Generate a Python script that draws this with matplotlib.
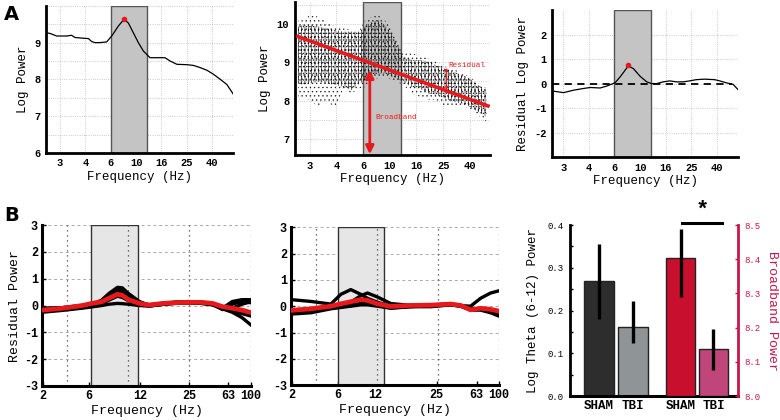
import numpy as np
import matplotlib.pyplot as plt

plt.rcParams['font.family'] = ['Liberation Mono', 'DejaVu Sans']
plt.rcParams['font.weight'] = 'bold'
plt.rcParams['axes.unicode_minus'] = False
plt.rcParams['hatch.linewidth'] = 0.45

RED = '#e8191c'
CRIMSON = '#c8164b'

# ---- panel A: x in tick-index units (ticks evenly spaced on a log axis)
A_TICK_POS = [0, 1, 2, 3, 4, 5, 6]
A_TICK_LABELS = ['3', '4', '6', '10', '16', '25', '40']
A_BAND = (2.0, 3.42)

# A1: single power spectrum
a1_x = [-0.55, -0.39, -0.13, 0.26, 0.46, 0.59, 0.92, 1.12, 1.25, 1.38, 1.58,
        1.84, 2.04, 2.30, 2.53, 2.70, 2.89, 3.09, 3.29, 3.55, 3.82, 4.14,
        4.34, 4.61, 5.00, 5.26, 5.53, 5.79, 6.05, 6.32, 6.58, 6.84]
a1_y = [9.27, 9.25, 9.18, 9.18, 9.20, 9.14, 9.12, 9.11, 9.03, 9.00, 9.00,
        9.02, 9.18, 9.45, 9.64, 9.53, 9.27, 9.00, 8.77, 8.59, 8.59, 8.59,
        8.50, 8.41, 8.40, 8.38, 8.32, 8.25, 8.14, 8.00, 7.86, 7.59]
a1_peak = (2.53, 9.64)

# A2: scatter envelope of all spectra (dense core and sparse outer range)
a2_x = [-0.44, -0.25, 0.0, 0.31, 0.62, 0.94, 1.25, 1.56, 1.87, 2.12, 2.37,
        2.56, 2.81, 3.06, 3.25, 3.50, 3.81, 4.12, 4.43, 4.74, 5.06, 5.37,
        5.68, 5.99, 6.30, 6.62]
a2_core_hi = [9.93, 9.97, 9.97, 9.93, 9.89, 9.84, 9.80, 9.80, 9.80, 9.97,
              10.06, 10.10, 9.97, 9.76, 9.50, 9.15, 9.06, 9.06, 9.02, 8.93,
              8.84, 8.76, 8.67, 8.58, 8.41, 8.28]
a2_core_lo = [8.45, 8.41, 8.45, 8.49, 8.45, 8.41, 8.36, 8.28, 8.45, 8.54,
              8.67, 8.71, 8.71, 8.63, 8.58, 8.49, 8.36, 8.32, 8.19, 8.15,
              8.06, 7.97, 7.93, 7.84, 7.71, 7.58]
a2_out_hi = [10.09, 10.10, 10.23, 10.19, 10.06, 9.93, 9.89, 9.84, 9.84,
             10.15, 10.19, 10.23, 10.10, 9.89, 9.67, 9.23, 9.23, 9.19, 9.10,
             9.02, 8.89, 8.84, 8.71, 8.63, 8.45, 8.32]
a2_out_lo = [8.02, 8.06, 8.02, 7.84, 8.02, 7.80, 8.28, 8.19, 8.32, 8.36,
             8.54, 8.58, 8.63, 8.54, 8.49, 8.41, 8.19, 8.10, 8.02, 8.02,
             7.84, 7.89, 7.84, 7.80, 7.62, 7.45]
a2_fit_x = [-0.44, 6.68]
a2_fit_y = [9.67, 7.86]

# A3: residual spectrum
a3_x = [-0.44, 0.01, 0.40, 0.79, 1.05, 1.44, 1.70, 2.02, 2.22, 2.54, 2.74,
        3.00, 3.26, 3.45, 3.65, 3.90, 4.16, 4.42, 4.68, 4.94, 5.19, 5.52,
        5.91, 6.11, 6.37, 6.63, 6.82]
a3_y = [-0.30, -0.37, -0.27, -0.20, -0.16, -0.18, -0.10, 0.03, 0.27, 0.72,
        0.61, 0.30, 0.07, 0.0, 0.0, 0.07, 0.11, 0.07, 0.07, 0.11, 0.16,
        0.18, 0.16, 0.11, 0.03, -0.03, -0.24]
a3_peak = (2.54, 0.75)

# ---- panel B: x in log10(frequency)
b_xlim = (0.293, 2.005)
b1_tick_pos = [0.301, 0.677, 1.094, 1.495, 1.814, 2.0]
b2_tick_pos = [0.301, 0.679, 0.983, 1.490, 1.820, 2.0]
b_tick_labels = ['2', '6', '12', '25', '63', '100']
b_grid_pos = [0.5, 1.0, 1.5, 2.0]
b1_band = (0.694, 1.078)
b2_band = (0.679, 1.061)

b1_x = [0.293, 0.46, 0.62, 0.70, 0.78, 0.84, 0.91, 0.95, 1.00, 1.09, 1.17,
        1.28, 1.39, 1.49, 1.60, 1.69, 1.77, 1.85, 1.93, 2.01]
b1_lines = [
    [-0.22, -0.15, -0.05, 0.05, 0.2, 0.45, 0.68, 0.66, 0.45, 0.15, 0.0, 0.05,
     0.1, 0.12, 0.1, 0.05, -0.1, 0.15, 0.22, 0.22],
    [-0.12, -0.08, 0.0, 0.06, 0.15, 0.3, 0.52, 0.5, 0.32, 0.1, 0.02, 0.08,
     0.13, 0.13, 0.1, 0.06, -0.12, -0.25, -0.45, -0.75],
    [-0.25, -0.18, -0.1, -0.05, 0.0, 0.05, 0.08, 0.07, 0.05, 0.0, -0.02, 0.05,
     0.1, 0.1, 0.08, 0.04, -0.15, -0.1, 0.05, 0.15],
    [-0.15, -0.1, -0.02, 0.05, 0.12, 0.25, 0.42, 0.4, 0.25, 0.08, 0.0, 0.06,
     0.1, 0.12, 0.1, 0.04, -0.08, -0.18, -0.3, -0.4],
    [-0.2, -0.13, -0.06, 0.0, 0.08, 0.2, 0.35, 0.3, 0.18, 0.05, -0.02, 0.04,
     0.08, 0.1, 0.08, 0.02, -0.12, -0.2, -0.28, -0.35],
    [-0.1, -0.08, 0.0, 0.04, 0.1, 0.28, 0.6, 0.58, 0.35, 0.12, 0.03, 0.08,
     0.12, 0.15, 0.12, 0.06, -0.1, 0.05, 0.15, 0.1],
]
b1_mean = [-0.17, -0.10, 0.0, 0.08, 0.14, 0.27, 0.42, 0.38, 0.22, 0.08,
           0.02, 0.08, 0.11, 0.12, 0.12, 0.08, -0.04, -0.10, -0.17, -0.27]

b2_x = [0.293, 0.457, 0.621, 0.703, 0.785, 0.867, 0.922, 1.004, 1.114,
        1.278, 1.442, 1.606, 1.688, 1.770, 1.852, 1.934, 2.016]
b2_lines = [
    [0.25, 0.18, 0.08, 0.45, 0.63, 0.45, 0.3, 0.15, 0.0, 0.02, 0.04, 0.08,
     0.02, 0.0, 0.3, 0.5, 0.6],
    [-0.15, -0.1, 0.0, 0.05, 0.15, 0.4, 0.5, 0.35, 0.1, 0.03, 0.05, 0.08,
     0.03, -0.1, -0.1, -0.15, -0.2],
    [-0.3, -0.25, -0.1, -0.05, 0.0, 0.05, 0.05, 0.0, -0.08, -0.02, -0.02,
     0.05, 0.0, -0.15, -0.15, -0.25, -0.4],
    [-0.2, -0.15, -0.05, 0.0, 0.05, 0.1, 0.1, 0.05, -0.05, 0.0, 0.0, 0.05,
     0.0, -0.12, -0.1, -0.2, -0.3],
    [-0.25, -0.2, -0.08, -0.02, 0.02, 0.08, 0.08, 0.02, -0.06, -0.02, 0.02,
     0.06, 0.02, -0.12, -0.12, -0.18, -0.35],
]
b2_mean = [-0.16, -0.10, 0.0, 0.09, 0.17, 0.25, 0.22, 0.09, -0.01, 0.03,
           0.04, 0.08, 0.03, -0.14, -0.08, -0.12, -0.2]

# B3: bars
bar_labels = ['SHAM', 'TBI', 'SHAM', 'TBI']
theta_mean = [0.27, 0.162]
theta_err_lo = [0.181, 0.123]
theta_err_hi = [0.355, 0.223]
broad_mean = [8.405, 8.139]
broad_err_lo = [8.29, 8.075]
broad_err_hi = [8.49, 8.197]

fig = plt.figure(figsize=(7.8, 4.2), dpi=100)


def style_a(ax, ylabel):
    for s in ['top', 'right']:
        ax.spines[s].set_visible(False)
    for s in ['left', 'bottom']:
        ax.spines[s].set_linewidth(2)
    ax.set_xticks(A_TICK_POS)
    ax.set_xticklabels(A_TICK_LABELS)
    ax.tick_params(length=0, labelsize=7.5, pad=4)
    ax.grid(True, which='both', color='#bbbbbb', ls=':', lw=0.6)
    ax.set_axisbelow(True)
    ax.set_xlabel('Frequency (Hz)', fontsize=9, labelpad=2)
    ax.set_ylabel(ylabel, fontsize=9)


# A1
ax = fig.add_axes([0.059, 0.636, 0.240, 0.350])
ax.axvspan(*A_BAND, facecolor='#c4c4c4', edgecolor='#555555', lw=1, zorder=1)
ax.plot(a1_x, a1_y, color='k', lw=0.9, zorder=3)
ax.plot(*a1_peak, 'o', color=RED, ms=3, zorder=4)
ax.set_xlim(-0.55, 6.83)
ax.set_ylim(6, 10)
ax.set_yticks([6, 7, 8, 9])
ax.set_yticks([6.5, 7.5, 8.5, 9.5, 10], minor=True)
style_a(ax, 'Log Power')
ax.tick_params(which='minor', length=0)

# A2
ax = fig.add_axes([0.378, 0.631, 0.250, 0.364])
ax.axvspan(*A_BAND, facecolor='#c4c4c4', edgecolor='#555555', lw=1, zorder=1)
ax.fill_between(a2_x, a2_out_lo, a2_out_hi, facecolor='none', edgecolor='#222222',
                hatch='....', lw=0, zorder=2)
ax.fill_between(a2_x, a2_core_lo, a2_core_hi, facecolor='none', edgecolor='#111111',
                hatch='|||||.....', lw=0, zorder=2)
ax.plot(a2_fit_x, a2_fit_y, color=RED, lw=2.6, zorder=4)
ax.annotate('', xy=(2.25, 8.80), xytext=(2.25, 6.60),
            arrowprops=dict(arrowstyle='<|-|>', color=RED, lw=2,
                            mutation_scale=12, shrinkA=0, shrinkB=0), zorder=5)
ax.annotate('', xy=(5.13, 8.85), xytext=(5.13, 8.28),
            arrowprops=dict(arrowstyle='<|-|>', color=RED, lw=0.8,
                            mutation_scale=4, shrinkA=0, shrinkB=0), zorder=5)
ax.text(5.2, 8.92, 'Residual', color=RED, fontsize=5.5, fontweight='normal',
        va='center', ha='left', zorder=6)
ax.text(2.45, 7.57, 'Broadband', color=RED, fontsize=5.5, fontweight='normal',
        va='center', ha='left', zorder=6)
ax.set_xlim(-0.56, 6.75)
ax.set_ylim(6.58, 10.57)
ax.set_yticks([7, 8, 9, 10])
ax.set_yticks([7.5, 8.5, 9.5, 10.5], minor=True)
style_a(ax, 'Log Power')
ax.tick_params(which='minor', length=0)

# A3
ax = fig.add_axes([0.708, 0.626, 0.238, 0.350])
ax.axvspan(*A_BAND, facecolor='#c4c4c4', edgecolor='#555555', lw=1, zorder=1)
ax.plot([-0.44, 6.6], [0, 0], color='k', lw=1.3, ls=(0, (4, 3)), zorder=3)
ax.plot(a3_x, a3_y, color='k', lw=0.9, zorder=3)
ax.plot(*a3_peak, 'o', color=RED, ms=3, zorder=4)
ax.set_xlim(-0.43, 6.82)
ax.set_ylim(-3, 3)
ax.set_yticks([-2, -1, 0, 1, 2])
style_a(ax, 'Residual Log Power')


def style_b(ax, tick_pos, band, xs, lines, mean, ylabel=None):
    ax.axvspan(*band, facecolor='#e6e6e6', edgecolor='#333333', lw=1, zorder=1)
    for gx in b_grid_pos:
        ax.axvline(gx, color='#444444', ls=(0, (1, 3)), lw=0.9, zorder=2)
    for ys in lines:
        ax.plot(xs, ys, color='k', lw=2.4, zorder=3)
    ax.plot(xs, mean, color=RED, lw=3.4, zorder=4)
    ax.set_xlim(*b_xlim)
    ax.set_ylim(-3, 3)
    ax.set_yticks(range(-3, 4))
    ax.set_xticks(tick_pos)
    ax.set_xticklabels(b_tick_labels)
    ax.grid(True, axis='y', color='#aaaaaa', ls=(0, (3, 3)), lw=0.7)
    ax.set_axisbelow(True)
    for s in ['top', 'right']:
        ax.spines[s].set_visible(False)
    for s in ['left', 'bottom']:
        ax.spines[s].set_linewidth(2.2)
    ax.tick_params(direction='in', length=3, width=1, labelsize=8.5, pad=3)
    ax.set_xlabel('Frequency (Hz)', fontsize=9.5, labelpad=2)
    if ylabel:
        ax.set_ylabel(ylabel, fontsize=9.5, labelpad=2)


ax = fig.add_axes([0.054, 0.081, 0.268, 0.383])
style_b(ax, b1_tick_pos, b1_band, b1_x, b1_lines, b1_mean, 'Residual Power')

ax = fig.add_axes([0.373, 0.083, 0.267, 0.376])
style_b(ax, b2_tick_pos, b2_band, b2_x, b2_lines, b2_mean)

# B3
bar_x = [0, 1, 2.4, 3.37]
bw = 0.87
ax = fig.add_axes([0.731, 0.057, 0.215, 0.407])
ax.bar(bar_x[:2], theta_mean, width=bw, color=['#2d2d2d', '#8f9496'],
       edgecolor='#222222', lw=1, zorder=2)
ax.vlines(bar_x[:2], theta_err_lo, theta_err_hi, color='k', lw=2.4, zorder=3)
ax.set_xlim(-0.85, 4.09)
ax.set_ylim(0, 0.4)
ax.set_yticks([0.0, 0.1, 0.2, 0.3, 0.4])
ax.set_yticklabels(['0.0', '0.1', '0.2', '0.3', '0.4'], fontweight='normal')
ax.set_yticks(np.arange(0.05, 0.4, 0.1), minor=True)
ax.set_xticks(bar_x)
ax.set_xticklabels(bar_labels)
ax.tick_params(axis='x', length=0, labelsize=9, pad=3)
ax.tick_params(axis='y', which='both', direction='in', length=2.5, width=1,
               labelsize=6.5, pad=5)
ax.set_ylabel('Log Theta (6-12) Power', fontsize=9, labelpad=6)
ax.spines['top'].set_visible(False)
ax.spines['right'].set_visible(False)
ax.spines['left'].set_linewidth(2)
ax.spines['bottom'].set_linewidth(2.2)
ax.plot([2.44, 3.62], [0.405, 0.405], color='k', lw=2.2, clip_on=False)
ax.text(3.03, 0.41, '*', fontsize=16, ha='center', va='bottom', fontweight='bold')

ax2 = ax.twinx()
ax2.bar(bar_x[2:], np.array(broad_mean) - 8.0, bottom=8.0, width=bw,
        color=['#c8102e', '#c0457a'], edgecolor='#222222', lw=1, zorder=2)
ax2.vlines(bar_x[2:], broad_err_lo, broad_err_hi, color='k', lw=2.4, zorder=3)
ax2.set_ylim(8.0, 8.5)
ax2.set_yticks(np.arange(8.0, 8.51, 0.1))
ax2.set_yticklabels(['8.0', '8.1', '8.2', '8.3', '8.4', '8.5'], fontweight='normal')
ax2.tick_params(axis='y', direction='in', length=2.5, width=1, colors=CRIMSON,
                labelsize=6.5, pad=5)
ax2.spines['right'].set_color(CRIMSON)
ax2.spines['right'].set_linewidth(2)
for s in ['top', 'left', 'bottom']:
    ax2.spines[s].set_visible(False)
ax2.set_ylabel('Broadband Power', color=CRIMSON, fontsize=9.5, rotation=270,
               labelpad=12)

fig.text(0.005, 0.965, 'A', fontsize=14, fontweight='bold', family='DejaVu Sans',
         va='center')
fig.text(0.005, 0.488, 'B', fontsize=14, fontweight='bold', family='DejaVu Sans',
         va='center')

fig.savefig('out.png', dpi=100)
